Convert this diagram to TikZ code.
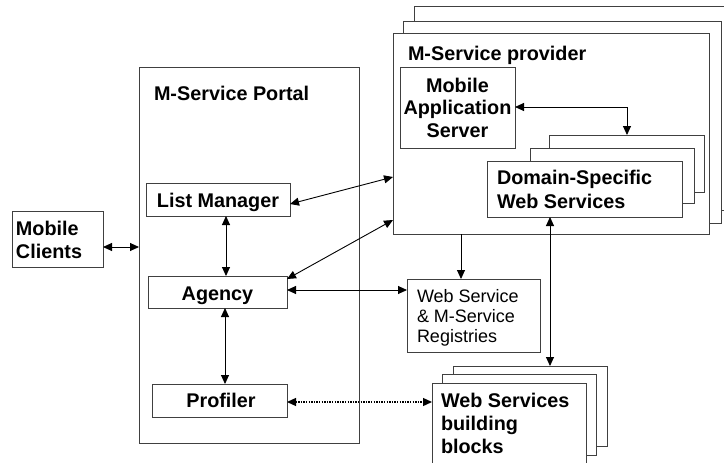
\documentclass[tikz,border=0pt]{standalone}
\usepackage{fontspec}
\setmainfont{Liberation Sans}
\usetikzlibrary{arrows.meta}
\newcommand\mybox[5]{\node[box, minimum width={(#4)-(#2)}, minimum height={(#5)-(#3)}] (#1) at ({((#2)+(#4))/2},{((#3)+(#5))/2}) {};}
\tikzset{
  box/.style={draw=black!75, fill=white, line width=0.9pt, inner sep=0pt, outer sep=0pt},
  bl/.style={font=\fontsize{19.8}{23}\selectfont\bfseries, inner sep=0pt, outer sep=0pt},
  rl/.style={font=\fontsize{18}{20}\selectfont, inner sep=0pt, outer sep=0pt},
  conn/.style={draw=black, line width=0.9pt, {Triangle[length=9pt,width=8pt]}-{Triangle[length=9pt,width=8pt]}},
  conn1/.style={draw=black, line width=0.9pt, -{Triangle[length=9pt,width=8pt]}},
  dotconn/.style={draw=black, line width=1.3pt, dash pattern=on 1.3pt off 1.3pt, {Triangle[length=9pt,width=8pt]}-{Triangle[length=9pt,width=8pt]}}
}
\begin{document}
\begin{tikzpicture}[x=1pt,y=-1pt]
\clip (0,0) rectangle (724,463);
\fill[white] (0,0) rectangle (724,463);
% M-Service provider stack
\mybox{prov3}{414}{6}{745}{210}
\mybox{prov2}{403}{21}{721}{223}
\mybox{prov}{393}{33}{709}{234}
\node[bl, anchor=base west] (provt) at (408,60) {M-Service provider};
\mybox{mas}{400}{67}{515}{148}
\node[bl, anchor=base] (mast) at (457.5,92) {\begin{tabular}[t]{@{}c@{}}Mobile\\Application\\Server\end{tabular}};
\mybox{ds3}{549}{135}{704}{192}
\mybox{ds2}{530}{148}{694}{203}
\mybox{ds}{487}{161}{682}{217}
\node[bl, anchor=base west, font=\fontsize{19.8}{24}\selectfont\bfseries] (dst) at (497,184) {\begin{tabular}[t]{@{}l@{}}Domain-Specific\\Web Services\end{tabular}};
% Portal
\mybox{portal}{139}{67}{359}{443}
\node[bl, anchor=base west] (portalt) at (154,100) {M-Service Portal};
\mybox{lm}{146}{183}{290}{216}
\node[bl, anchor=base] (lmt) at (218,207) {List Manager};
\mybox{ag}{148}{276}{287}{308}
\node[bl, anchor=base] (agt) at (217.5,300) {Agency};
\mybox{prof}{152}{384}{287}{417}
\node[bl, anchor=base] (proft) at (221,407) {Profiler};
% Mobile clients
\mybox{mc}{12}{211}{103}{267}
\node[bl, anchor=base west] (mct) at (16,235) {\begin{tabular}[t]{@{}l@{}}Mobile\\Clients\end{tabular}};
% Registries
\mybox{reg}{407}{279}{540}{352}
\node[rl, anchor=base west] (regt) at (417,302) {\begin{tabular}[t]{@{}l@{}}Web Service\\\& M-Service\\Registries\end{tabular}};
% Web services building blocks
\mybox{wb3}{453}{366}{607}{446}
\mybox{wb2}{442}{374}{596}{455}
\mybox{wb}{432}{383}{586}{480}
\node[bl, anchor=base west] (wbt) at (441,407) {\begin{tabular}[t]{@{}l@{}}Web Services\\building\\blocks\end{tabular}};
% connectors
\draw[conn] (mc.east |- 0,247) -- (portal.west |- 0,247);
\draw[conn] (lm.south -| 226,0) -- (ag.north -| 226,0);
\draw[conn] (ag.south -| 225,0) -- (prof.north -| 225,0);
\draw[conn] (prov.west |- 0,177) -- (lm.east |- 0,204);
\draw[conn] (prov.west |- 0,220) -- (ag.east |- 0,279);
\draw[conn] (ag.east |- 0,290) -- (reg.west |- 0,290);
\draw[conn1] (prov.south -| 461,0) -- (reg.north -| 461,0);
\draw[conn] (mas.east |- 0,107) -| (ds3.north -| 627,0);
\draw[conn] (ds.south -| 550,0) -- (wb3.north -| 550,0);
\draw[dotconn] (prof.east |- 0,402) -- (wb.west |- 0,402);
\end{tikzpicture}
\end{document}
